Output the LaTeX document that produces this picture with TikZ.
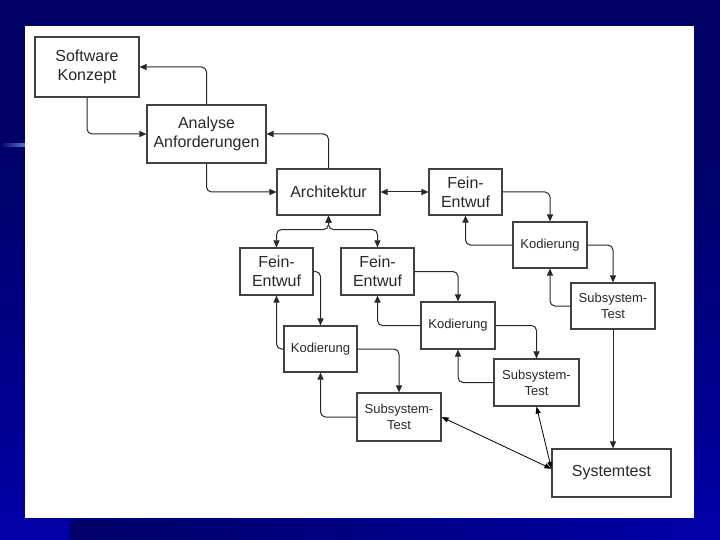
\documentclass[tikz,border=0pt]{standalone}
\usepackage{fontspec}
\setmainfont{Liberation Sans}
\usepackage{xcolor}
\usepackage{tikz}
\usetikzlibrary{positioning,arrows.meta,calc}
\definecolor{dnavy}{RGB}{0,0,102}
\definecolor{bblue}{RGB}{0,0,168}
\definecolor{lnblue}{RGB}{80,120,225}
\definecolor{dgray}{RGB}{40,40,40}
\definecolor{bgray}{RGB}{65,65,65}
\tikzset{
  bx/.style={rectangle, draw=bgray, line width=1.1pt, fill=white, text=dgray, align=center, inner sep=0pt, font=\fontsize{16}{19}\selectfont},
  sbx/.style={bx, font=\fontsize{13}{16}\selectfont},
  Ce/.style={-{Triangle[length=7pt,width=6pt]}, dgray, line width=1pt, rounded corners=5pt},
  Be/.style={{Triangle[length=7pt,width=6pt]}-{Triangle[length=7pt,width=6pt]}, dgray, line width=1pt, rounded corners=5pt},
  Te/.style={{Triangle[length=7pt,width=5pt]}-{Triangle[length=7pt,width=5pt]}, black, line width=0.8pt},
  slide/.style={x=1pt, y=-1pt}
}
\begin{document}
\begin{tikzpicture}[slide]
        \useasboundingbox (0,0) rectangle (720,540);
        % background
        \fill[dnavy] (0,0) rectangle (720,148);
        \shade[top color=dnavy, bottom color=bblue] (0,148) rectangle (720,540);
        \shade[left color=dnavy, right color=lnblue] (0,144) rectangle (25,146.5);
        \shade[left color=dnavy, right color=bblue] (70,519) rectangle (720,540);
        \fill[white] (25,26) rectangle (694,518);
        % boxes
        \node[bx, minimum width=104pt, minimum height=60pt] (sw) at (87,67) {Software\\Konzept};
        \node[bx, minimum width=119pt, minimum height=58pt] (an) at (206.5,134) {Analyse\\Anforderungen};
        \node[bx, minimum width=103pt, minimum height=46pt] (ar) at (328.5,192) {Architektur};
        \node[bx, minimum width=73pt, minimum height=47pt] (fe1) at (276.5,271.5) {Fein-\\Entwuf};
        \node[bx, minimum width=73pt, minimum height=47pt] (fe2) at (377.5,271.5) {Fein-\\Entwuf};
        \node[bx, minimum width=73pt, minimum height=46pt] (fe3) at (465.5,192) {Fein-\\Entwuf};
        \node[sbx, minimum width=73pt, minimum height=46pt] (ko1) at (320.5,349) {Kodierung};
        \node[sbx, minimum width=74pt, minimum height=47pt] (ko2) at (458,325.5) {Kodierung};
        \node[sbx, minimum width=74pt, minimum height=46pt] (ko3) at (550,245) {Kodierung};
        \node[sbx, minimum width=84pt, minimum height=48pt] (st1) at (399,417) {Subsystem-\\Test};
        \node[sbx, minimum width=85pt, minimum height=47pt] (st2) at (536.5,382.5) {Subsystem-\\Test};
        \node[sbx, minimum width=84pt, minimum height=46pt] (st3) at (613,306) {Subsystem-\\Test};
        \node[bx, minimum width=119pt, minimum height=48pt] (sys) at (611.5,473) {Systemtest};
        % connectors
        \draw[Ce] (sw.south) |- (an.west);
        \draw[Ce] (an.north) |- (sw.east);
        \draw[Ce] (an.south) |- (ar.west);
        \draw[Ce] (ar.north) |- (an.east);
        \draw[Be] (ar.east) -- (fe3.west);
        \coordinate (sp) at ($(ar.south)+(0,14)$);
        \draw[Be] (fe1.north) |- (sp) -- (ar.south);
        \draw[Be] (fe2.north) |- (sp) -- (ar.south);
        \foreach \f/\k/\s in {fe1/ko1/st1, fe2/ko2/st2, fe3/ko3/st3} {
          \draw[Ce] (\f.east) -| (\k.north);
          \draw[Ce] (\k.west) -| (\f.south);
          \draw[Ce] (\k.east) -| (\s.north);
          \draw[Ce] (\s.west) -| (\k.south);
        }
        \draw[Ce] (st3.south) -- (st3.south |- sys.north);
        \draw[Te] (st1.east) -- (sys.176);
        \draw[Te] (st2.south) -- (sys.176);
      \end{tikzpicture}
\end{document}
